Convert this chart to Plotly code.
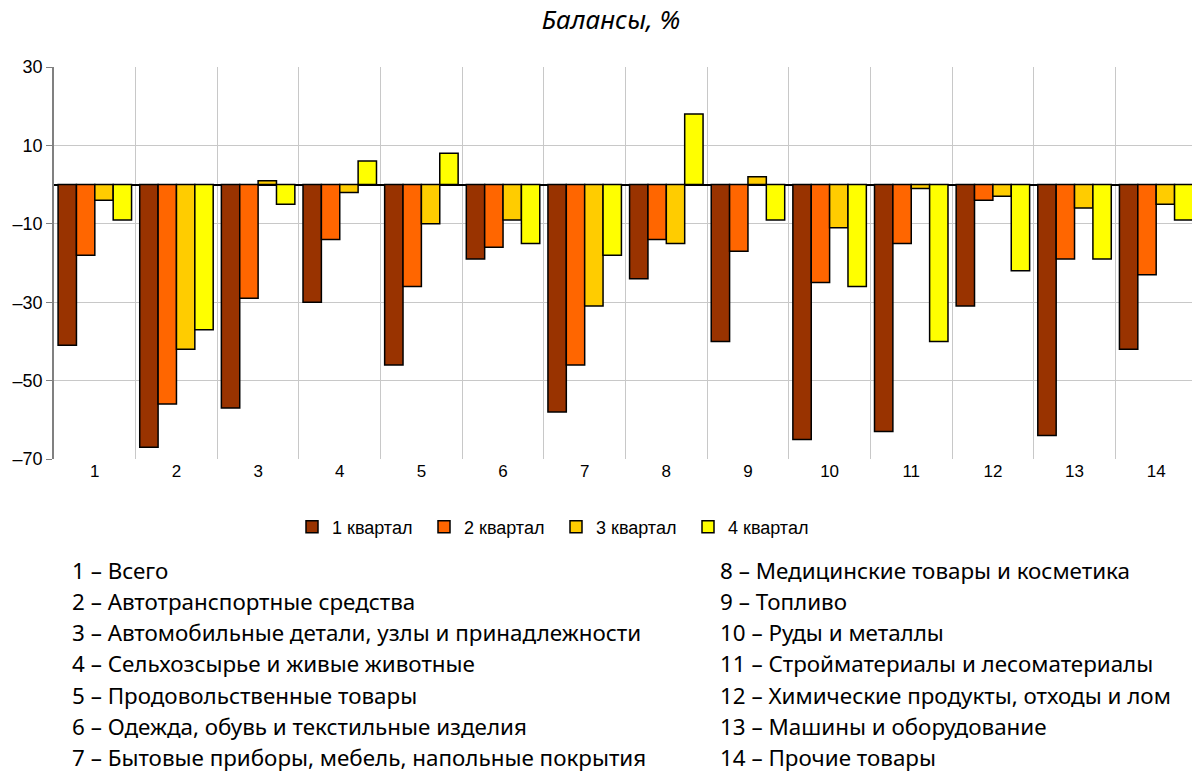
import plotly.graph_objects as go

categories = list(range(1, 15))
q1 = [-41, -67, -57, -30, -46, -19, -58, -24, -40, -65, -63, -31, -64, -42]
q2 = [-18, -56, -29, -14, -26, -16, -46, -14, -17, -25, -15, -4, -19, -23]
q3 = [-4, -42, 1, -2, -10, -9, -31, -15, 2, -11, -1, -3, -6, -5]
q4 = [-9, -37, -5, 6, 8, -15, -18, 18, -9, -26, -40, -22, -19, -9]
series_names = ["1 квартал", "2 квартал", "3 квартал", "4 квартал"]
colors = ["#993300", "#FF6600", "#FFCC00", "#FFFF00"]
y_ticks = [-70, -50, -30, -10, 10, 30]
y_ticktext = ["–70", "–50", "–30", "–10", "10", "30"]
Y_MIN, Y_MAX = -70, 30

left_notes = [
    "1 – Всего",
    "2 – Автотранспортные средства",
    "3 – Автомобильные детали, узлы и принадлежности",
    "4 – Сельхозсырье и живые животные",
    "5 – Продовольственные товары",
    "6 – Одежда, обувь и текстильные изделия",
    "7 – Бытовые приборы, мебель, напольные покрытия",
]
right_notes = [
    "8 – Медицинские товары и косметика",
    "9 – Топливо",
    "10 – Руды и металлы",
    "11 – Стройматериалы и лесоматериалы",
    "12 – Химические продукты, отходы и лом",
    "13 – Машины и оборудование",
    "14 – Прочие товары",
]

# page body has an 8px default margin; work in figure coordinates
OFF = 8
W, H = 1200 - OFF, 771 - OFF
PLOT_L, PLOT_R, PLOT_T, PLOT_B = 54 - OFF, 1197 - OFF, 67 - OFF, 459 - OFF
PW, PH = PLOT_R - PLOT_L, PLOT_B - PLOT_T

narrow = "Liberation Sans Narrow, Arial Narrow, Liberation Sans, sans-serif"
note_font = "Noto Sans, sans-serif"
boundaries = [c + 0.5 for c in categories[:-1]]

fig = go.Figure()
for name, vals, col in zip(series_names, [q1, q2, q3, q4], colors):
    fig.add_trace(go.Bar(
        x=categories, y=vals, name=name,
        marker=dict(color=col, line=dict(color="black", width=1.5)),
    ))

fig.update_layout(
    width=W, height=H,
    paper_bgcolor="white", plot_bgcolor="white",
    margin=dict(l=PLOT_L, r=W - PLOT_R, t=PLOT_T, b=H - PLOT_B, autoexpand=False),
    barmode="group", bargap=0.1, bargroupgap=0,
    title=dict(text="<i>Балансы, %</i>", x=(611 - OFF) / W, xanchor="center",
               y=1 - (20 - OFF) / H, yanchor="middle",
               font=dict(family=note_font, size=26, color="black")),
    showlegend=True,
    legend=dict(orientation="h", x=(292 - OFF - PLOT_L) / PW, xanchor="left",
                y=-(527 - OFF - PLOT_B) / PH, yanchor="middle",
                font=dict(family=narrow, size=18, color="black"),
                traceorder="normal", itemwidth=30,
                entrywidth=87, entrywidthmode="pixels"),
    xaxis=dict(
        range=[0.5, 14.5], tickmode="array", tickvals=categories,
        ticktext=[str(c) for c in categories], showgrid=False,
        ticks="", tickfont=dict(family=narrow, size=17, color="black"),
        showline=False, zeroline=False,
        minor=dict(tickvals=boundaries, showgrid=True,
                   gridcolor="#C8C8C8", gridwidth=1),
    ),
    xaxis2=dict(
        overlaying="x", matches="x", anchor="free",
        position=(0 - Y_MIN) / (Y_MAX - Y_MIN), side="bottom",
        tickmode="array", tickvals=boundaries, ticks="outside", ticklen=5,
        tickcolor="#555555", tickwidth=1.5, showticklabels=False,
        showgrid=False, showline=False, zeroline=False,
    ),
    yaxis=dict(
        range=[Y_MIN, Y_MAX], tickmode="array", tickvals=y_ticks, ticktext=y_ticktext,
        showgrid=True, gridcolor="#C8C8C8", gridwidth=1,
        zeroline=True, zerolinecolor="black", zerolinewidth=2,
        showline=True, linecolor="#808080", linewidth=1.5,
        ticks="outside", ticklen=6, tickcolor="#808080",
        tickfont=dict(family=narrow, size=18, color="black"),
    ),
)

for col_x, notes in ((70, left_notes), (718, right_notes)):
    for i, t in enumerate(notes):
        fig.add_annotation(text=t, xref="paper", yref="paper",
                           x=(col_x - OFF - PLOT_L) / PW,
                           y=-(570 - OFF - PLOT_B + 31.3 * i) / PH,
                           xanchor="left", yanchor="middle", showarrow=False,
                           font=dict(family=note_font, size=22.4, color="black"))

fig.write_html("out.html")
